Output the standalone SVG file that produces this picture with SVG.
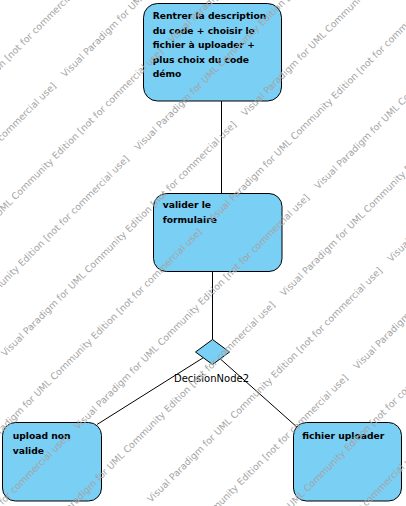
<svg xmlns="http://www.w3.org/2000/svg" width="406" height="506" viewBox="0 0 406 506">
<style>
.bg{fill:#ffffff}
.node{fill:#7acff5;stroke:#000000;stroke-width:1}
.lbl{font-family:"DejaVu Sans","Liberation Sans",sans-serif;font-weight:bold;font-size:9.2px;fill:#000000}
.dlbl{font-family:"DejaVu Sans","Liberation Sans",sans-serif;font-size:10px;fill:#000000}
.edge{stroke:#000000;stroke-width:1;fill:none}
.wm{font-family:"DejaVu Sans","Liberation Sans",sans-serif;font-size:9.4px;fill:#a4a4a4}
</style>
<rect class="bg" x="0" y="0" width="406" height="506"/>
<g id="connectors">
<line class="edge" x1="221.5" y1="101" x2="221.5" y2="193.5"/>
<line class="edge" x1="212.5" y1="271.5" x2="212.5" y2="339.5"/>
<line class="edge" x1="203.3" y1="357.7" x2="97" y2="424.5"/>
<line class="edge" x1="220.2" y1="358.8" x2="298" y2="428"/>
</g>
<g id="node-rentrer">
<rect class="node" x="143.5" y="3.5" width="138" height="97.5" rx="14" ry="14"/>
<text class="lbl" x="152.7" y="19.3">Rentrer la description</text>
<text class="lbl" x="152.7" y="33.8">du code + choisir le</text>
<text class="lbl" x="152.7" y="48.3">fichier à uploader +</text>
<text class="lbl" x="152.7" y="62.8">plus choix du code</text>
<text class="lbl" x="152.7" y="77.3">démo</text>
</g>
<g id="node-valider">
<rect class="node" x="153.5" y="193.5" width="128.5" height="78" rx="13" ry="13"/>
<text class="lbl" x="162.7" y="208.3">valider le</text>
<text class="lbl" x="162.7" y="222.8">formulaire</text>
</g>
<g id="decision">
<polygon class="node" points="212.5,339.5 229.5,352 212.5,364.5 195.5,352"/>
<text class="dlbl" x="211.5" y="381.7" text-anchor="middle">DecisionNode2</text>
</g>
<g id="node-upload-non-valide">
<rect class="node" x="2.5" y="422.5" width="99" height="78.5" rx="13" ry="13"/>
<text class="lbl" x="12.7" y="439.3">upload non</text>
<text class="lbl" x="12.7" y="453.8">valide</text>
</g>
<g id="node-fichier-uploader">
<rect class="node" x="293.5" y="422.5" width="108" height="78.5" rx="13" ry="13"/>
<text class="lbl" x="302.3" y="439.3">fichier uploader</text>
</g>
<g id="watermark" transform="rotate(-45)">
<text class="wm" x="-249" y="49.5" textLength="328" lengthAdjust="spacing">Visual Paradigm for UML Community Edition [not for commercial use]</text>
<text class="wm" x="-349" y="101.1" textLength="328" lengthAdjust="spacing">Visual Paradigm for UML Community Edition [not for commercial use]</text>
<text class="wm" x="-9" y="101.1" textLength="328" lengthAdjust="spacing">Visual Paradigm for UML Community Edition [not for commercial use]</text>
<text class="wm" x="-249" y="152.7" textLength="328" lengthAdjust="spacing">Visual Paradigm for UML Community Edition [not for commercial use]</text>
<text class="wm" x="91" y="152.7" textLength="328" lengthAdjust="spacing">Visual Paradigm for UML Community Edition [not for commercial use]</text>
<text class="wm" x="-349" y="204.4" textLength="328" lengthAdjust="spacing">Visual Paradigm for UML Community Edition [not for commercial use]</text>
<text class="wm" x="-9" y="204.4" textLength="328" lengthAdjust="spacing">Visual Paradigm for UML Community Edition [not for commercial use]</text>
<text class="wm" x="-249" y="256" textLength="328" lengthAdjust="spacing">Visual Paradigm for UML Community Edition [not for commercial use]</text>
<text class="wm" x="91" y="256" textLength="328" lengthAdjust="spacing">Visual Paradigm for UML Community Edition [not for commercial use]</text>
<text class="wm" x="-349" y="307.6" textLength="328" lengthAdjust="spacing">Visual Paradigm for UML Community Edition [not for commercial use]</text>
<text class="wm" x="-9" y="307.6" textLength="328" lengthAdjust="spacing">Visual Paradigm for UML Community Edition [not for commercial use]</text>
<text class="wm" x="-589" y="359.2" textLength="328" lengthAdjust="spacing">Visual Paradigm for UML Community Edition [not for commercial use]</text>
<text class="wm" x="-249" y="359.2" textLength="328" lengthAdjust="spacing">Visual Paradigm for UML Community Edition [not for commercial use]</text>
<text class="wm" x="91" y="359.2" textLength="328" lengthAdjust="spacing">Visual Paradigm for UML Community Edition [not for commercial use]</text>
<text class="wm" x="-349" y="410.8" textLength="328" lengthAdjust="spacing">Visual Paradigm for UML Community Edition [not for commercial use]</text>
<text class="wm" x="-9" y="410.8" textLength="328" lengthAdjust="spacing">Visual Paradigm for UML Community Edition [not for commercial use]</text>
<text class="wm" x="-249" y="462.4" textLength="328" lengthAdjust="spacing">Visual Paradigm for UML Community Edition [not for commercial use]</text>
<text class="wm" x="91" y="462.4" textLength="328" lengthAdjust="spacing">Visual Paradigm for UML Community Edition [not for commercial use]</text>
<text class="wm" x="-349" y="514.1" textLength="328" lengthAdjust="spacing">Visual Paradigm for UML Community Edition [not for commercial use]</text>
<text class="wm" x="-9" y="514.1" textLength="328" lengthAdjust="spacing">Visual Paradigm for UML Community Edition [not for commercial use]</text>
<text class="wm" x="-249" y="565.7" textLength="328" lengthAdjust="spacing">Visual Paradigm for UML Community Edition [not for commercial use]</text>
<text class="wm" x="-349" y="617.3" textLength="328" lengthAdjust="spacing">Visual Paradigm for UML Community Edition [not for commercial use]</text>
</g>
</svg>
